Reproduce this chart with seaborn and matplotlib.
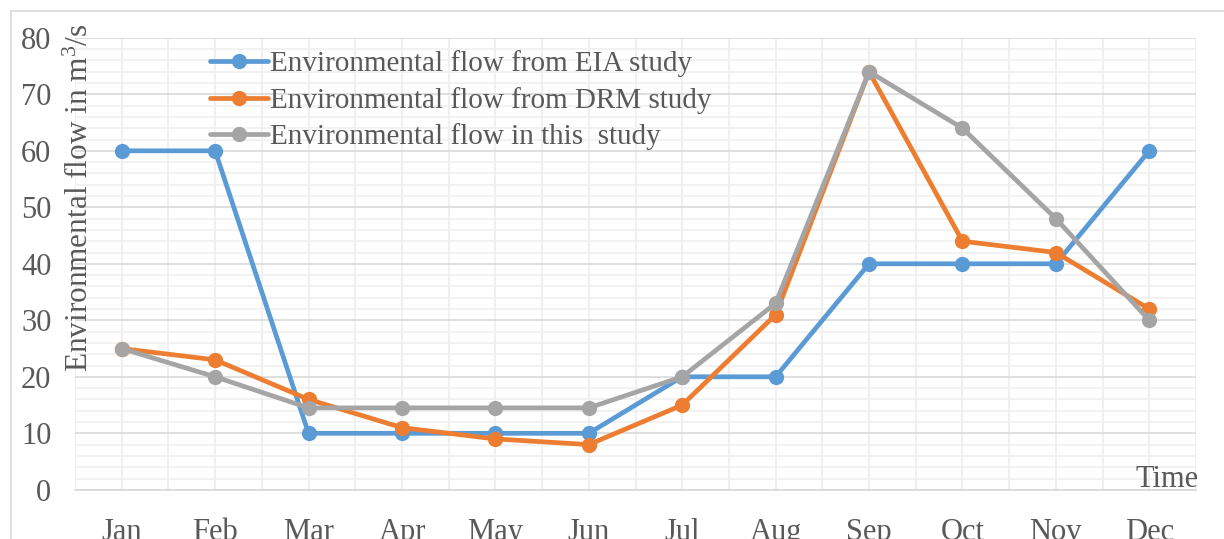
import matplotlib
matplotlib.use("Agg")
import matplotlib.pyplot as plt
from matplotlib.patches import Rectangle
from matplotlib.ticker import MultipleLocator
import numpy as np
import pandas as pd
import seaborn as sns

months = ["Jan", "Feb", "Mar", "Apr", "May", "Jun",
          "Jul", "Aug", "Sep", "Oct", "Nov", "Dec"]
eia_flow = [60, 60, 10, 10, 10, 10, 20, 20, 40, 40, 40, 60]
drm_flow = [25, 23, 16, 11, 9, 8, 15, 31, 74, 44, 42, 32]
this_flow = [25, 20, 14.5, 14.5, 14.5, 14.5, 20, 33, 74, 64, 48, 30]
series_names = ["Environmental flow from EIA study",
                "Environmental flow from DRM study",
                "Environmental flow in this  study"]
colors = ["#5B9BD5", "#ED7D31", "#A5A5A5"]

frames = []
for name, vals in zip(series_names, [eia_flow, drm_flow, this_flow]):
    frames.append(pd.DataFrame({"pos": np.arange(len(months)),
                                "flow": vals, "series": name}))
df = pd.concat(frames, ignore_index=True)

sns.set_style("white")
plt.rcParams["font.family"] = ["Liberation Serif", "DejaVu Serif"]
plt.rcParams["mathtext.fontset"] = "custom"
plt.rcParams["mathtext.rm"] = "Liberation Serif"
plt.rcParams["mathtext.it"] = "Liberation Serif:italic"
plt.rcParams["mathtext.bf"] = "Liberation Serif:bold"
text_color = "#595959"

fig = plt.figure(figsize=(12.24, 5.39), dpi=100)
ax = fig.add_axes([75 / 1224, 1 - 489.8 / 539, (1196 - 75) / 1224, (489.8 - 37.8) / 539])

# outer chart border
fig.patches.append(Rectangle((11 / 1224, -0.05), 1.2, 1 - 11 / 539 + 0.05,
                             transform=fig.transFigure, fill=False,
                             edgecolor="#D9D9D9", linewidth=1.2, zorder=0))

sns.lineplot(data=df, x="pos", y="flow", hue="series", hue_order=series_names,
             palette=colors, marker="o", markersize=11, markeredgewidth=0,
             linewidth=3.4, ax=ax, sort=False, zorder=3)

ax.set_xlim(-0.5, len(months) - 0.5)
ax.set_ylim(0, 80)
ax.yaxis.set_major_locator(MultipleLocator(10))
ax.yaxis.set_minor_locator(MultipleLocator(2))
ax.set_xticks(np.arange(len(months)))
ax.set_xticks(np.arange(-0.5, len(months), 1.0), minor=True)
ax.set_xticklabels(months)

ax.grid(which="major", axis="y", color="#D9D9D9", linewidth=1.2, zorder=0)
ax.grid(which="minor", axis="y", color="#F0F0F0", linewidth=1.2, zorder=0)
ax.grid(which="both", axis="x", color="#EEEEEE", linewidth=1.2, zorder=0)
ax.set_axisbelow(True)

for side in ["top", "right", "left"]:
    ax.spines[side].set_visible(False)
ax.spines["bottom"].set_color("#D9D9D9")
ax.spines["bottom"].set_linewidth(1.2)

ax.tick_params(axis="both", which="both", length=0, labelsize=22, colors=text_color)
ax.tick_params(axis="y", pad=17)
ax.tick_params(axis="x", pad=20)

ax.set_xlabel("")
ax.set_ylabel("")
fig.text(80 / 1224, 1 - 198 / 539, "Environmental flow in m$^3$/s", rotation=90,
         ha="center", va="center", fontsize=22.5, color=text_color)
ax.text((1167 - 75) / 1121, 0.006, "Time", transform=ax.transAxes,
        ha="center", va="baseline", fontsize=22, color=text_color)

handles, labels = ax.get_legend_handles_labels()
leg = ax.legend(handles, labels, loc="upper left",
                bbox_to_anchor=(117 / 1121, 1.0 + 5 / 452), frameon=False,
                fontsize=21, handlelength=2.0, handletextpad=0.08,
                labelspacing=0.33, borderaxespad=0.2, labelcolor=text_color)

fig.savefig("out.png", dpi=100)
